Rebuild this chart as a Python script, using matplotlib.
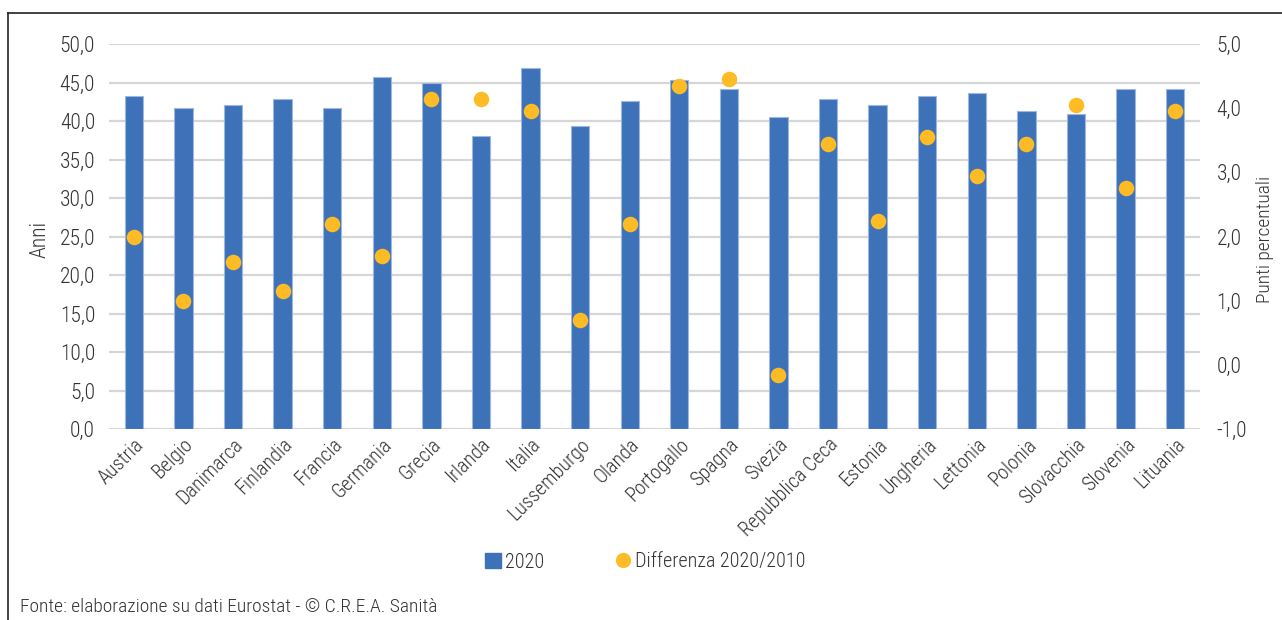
import matplotlib
matplotlib.use("Agg")
import matplotlib.pyplot as plt
import matplotlib.transforms as mtransforms
from matplotlib.lines import Line2D
from matplotlib.patches import Patch
import numpy as np

plt.rcParams['font.family'] = ['Roboto Condensed', 'Liberation Sans Narrow',
                               'DejaVu Sans Condensed', 'Roboto', 'DejaVu Sans']
plt.rcParams['font.stretch'] = 'condensed'
plt.rcParams['font.weight'] = 'light'

countries = ["Austria", "Belgio", "Danimarca", "Finlandia", "Francia", "Germania",
             "Grecia", "Irlanda", "Italia", "Lussemburgo", "Olanda", "Portogallo",
             "Spagna", "Svezia", "Repubblica Ceca", "Estonia", "Ungheria", "Lettonia",
             "Polonia", "Slovacchia", "Slovenia", "Lituania"]
eta_2020 = [43.3, 41.7, 42.1, 42.9, 41.7, 45.7, 44.9, 38.1, 46.9, 39.3, 42.6,
            45.3, 44.1, 40.5, 42.9, 42.1, 43.3, 43.7, 41.3, 40.9, 44.1, 44.1]
diff_2020_2010 = [2.0, 1.0, 1.6, 1.15, 2.2, 1.7, 4.15, 4.15, 3.95, 0.7, 2.2,
                  4.35, 4.45, -0.15, 3.45, 2.25, 3.55, 2.95, 3.45, 4.05, 2.75, 3.95]
left_ticks = [0, 5, 10, 15, 20, 25, 30, 35, 40, 45, 50]
right_ticks = [-1, 0, 1, 2, 3, 4, 5]

text_col = "#333333"
bar_col = "#3D72B9"
dot_col = "#FDBB26"
grid_col = "#D6D6D6"

fig = plt.figure(figsize=(12.82, 6.2), dpi=100)
ax = fig.add_axes([109 / 1282, 1 - 429.3 / 620, (1200 - 109) / 1282, (429.3 - 44) / 620])
ax2 = ax.twinx()

x = np.arange(len(countries))
ax.bar(x, eta_2020, width=0.37, color=bar_col, edgecolor="#9DB7DF", linewidth=0.8, zorder=3)
ax.set_xlim(-0.5, len(countries) - 0.5)
ax.set_ylim(0, 50)
ax.set_yticks(left_ticks)
ax.set_yticklabels([f"{v:.1f}".replace(".", ",") for v in left_ticks])
for t in left_ticks:
    ax.axhline(t, color=grid_col, linewidth=1.6, zorder=1)

ax2.scatter(x, diff_2020_2010, s=125, color=dot_col, zorder=4, linewidths=0)
ax2.set_ylim(-1, 5)
ax2.set_yticks(right_ticks)
ax2.set_yticklabels([f"{v:.1f}".replace(".", ",") for v in right_ticks])

for a in (ax, ax2):
    for s in a.spines.values():
        s.set_visible(False)
    a.tick_params(length=0, labelsize=15.5, colors=text_col)
ax.tick_params(axis='y', pad=10)
ax2.tick_params(axis='y', pad=12)

ax.set_xticks(x)
ax.set_xticklabels(countries, rotation=45, ha='right', rotation_mode='anchor', fontsize=14.5)
offset = mtransforms.ScaledTranslation(-0.05, -0.02, fig.dpi_scale_trans)
for lab in ax.get_xticklabels():
    lab.set_transform(lab.get_transform() + offset)
ax.tick_params(axis='x', pad=4)

fig.text(40 / 1282, 1 - 240 / 620, "Anni", fontsize=15.5, color=text_col,
         rotation=90, ha='center', va='center')
fig.text(1265 / 1282, 1 - 239 / 620, "Punti percentuali", fontsize=14, color=text_col,
         rotation=90, ha='center', va='center')

handles = [Patch(facecolor=bar_col, edgecolor=bar_col, label="2020"),
           Line2D([], [], marker='o', linestyle='none', markersize=11,
                  markerfacecolor=dot_col, markeredgewidth=0, label="Differenza 2020/2010")]
fig.legend(handles=handles, loc='center', bbox_to_anchor=(645 / 1282, 1 - 562 / 620),
           ncol=2, frameon=False, fontsize=14.5, handlelength=0.8, handleheight=0.8,
           handletextpad=0.2, columnspacing=3.5, labelcolor=text_col)

fig.text(20 / 1282, 1 - 607 / 620, "Fonte: elaborazione su dati Eurostat - © C.R.E.A. Sanità",
         fontsize=14, color=text_col, va='center', ha='left')

# outer frame: top and left edges
fig.add_artist(Line2D([8 / 1282, 1.0], [1 - 13 / 620, 1 - 13 / 620],
                      transform=fig.transFigure, color="#222222", linewidth=1.2))
fig.add_artist(Line2D([8 / 1282, 8 / 1282], [0, 1 - 13 / 620],
                      transform=fig.transFigure, color="#222222", linewidth=1.2))

fig.savefig("out.png", dpi=100)
